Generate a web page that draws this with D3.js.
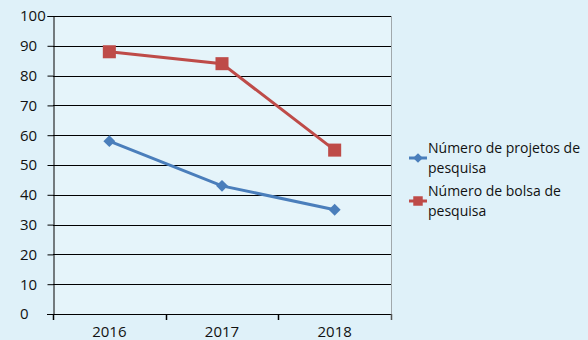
<!DOCTYPE html>
<html><head><meta charset="utf-8">
<script src="https://cdn.jsdelivr.net/npm/d3@7"></script>
<style>html,body{margin:0;padding:0;background:#dff1f9;}svg{display:block;}</style>
</head><body>
<svg id="c" width="588" height="340"></svg>
<script>
const categories = ["2016", "2017", "2018"];
const seriesNames = ["Número de projetos de pesquisa", "Número de bolsa de pesquisa"];
const projetos = [58, 43, 35];
const bolsas = [88, 84, 55];
const yTicks = [0, 10, 20, 30, 40, 50, 60, 70, 80, 90, 100];

(function () {
const svg = d3.select("#c");
const font = "'Open Sans', 'Liberation Sans', sans-serif";
const mLeft = 53, mRight = 391, mTop = 16, mBottom = 314;

svg.append("rect").attr("width", 588).attr("height", 340).attr("fill", "#dff1f9");
svg.append("rect").attr("x", mLeft).attr("y", mTop).attr("width", mRight - mLeft).attr("height", mBottom - mTop).attr("fill", "#e5f4fa");

const x = d3.scaleBand().domain(categories).range([mLeft, mRight]);
const y = d3.scaleLinear().domain([0, 100]).range([mBottom, mTop]);

svg.append("line").attr("x1", mRight + 0.5).attr("x2", mRight + 0.5).attr("y1", mTop).attr("y2", mBottom).attr("stroke", "#a0a8ac").attr("stroke-width", 1);

svg.append("g").selectAll("line").data(yTicks.filter(d => d > 0)).join("line")
  .attr("x1", mLeft).attr("x2", mRight)
  .attr("y1", d => Math.round(y(d)) + 0.5).attr("y2", d => Math.round(y(d)) + 0.5)
  .attr("stroke", "#000").attr("stroke-width", 1);

const yAxis = d3.axisLeft(y).tickValues(yTicks).tickSize(6).tickPadding(3);
const gy = svg.append("g").attr("transform", `translate(${mLeft + 0.5},0)`).call(yAxis);
gy.selectAll("text").attr("font-family", font).attr("font-size", 15).attr("fill", "#111")
  .attr("text-anchor", "start").attr("x", 20 - (mLeft + 0.5));
gy.select(".domain").attr("stroke", "#000");
gy.selectAll(".tick line").attr("stroke", "#000");

const xAxis = d3.axisBottom(x).tickSize(0).tickPadding(12);
const gx = svg.append("g").attr("transform", `translate(0,${mBottom})`).call(xAxis);
gx.selectAll("text").attr("font-family", font).attr("font-size", 15).attr("fill", "#111");
gx.select(".domain").remove();
svg.append("line").attr("x1", mLeft - 6).attr("x2", mRight).attr("y1", mBottom + 0.5).attr("y2", mBottom + 0.5).attr("stroke", "#000");
const edges = [mLeft, ...categories.map(c => x(c) + x.bandwidth())];
svg.append("g").selectAll("line").data(edges).join("line")
  .attr("x1", d => Math.round(d) + 0.5).attr("x2", d => Math.round(d) + 0.5)
  .attr("y1", mBottom).attr("y2", mBottom + 6)
  .attr("stroke", (d, i) => i === edges.length - 1 ? "#555" : "#000").attr("stroke-width", 1.5);

const cx = c => x(c) + x.bandwidth() / 2;
const line = d3.line().x((d, i) => cx(categories[i])).y(d => y(d));

const blue = "#4a7ebb", red = "#be4b48";

svg.append("path").datum(projetos).attr("d", line).attr("fill", "none").attr("stroke", blue).attr("stroke-width", 3);
svg.append("path").datum(bolsas).attr("d", line).attr("fill", "none").attr("stroke", red).attr("stroke-width", 3);

const diamond = d3.symbol().type(d3.symbolDiamond2).size(90);
const square = d3.symbol().type(d3.symbolSquare).size(170);

svg.append("g").selectAll("path").data(projetos).join("path")
  .attr("d", diamond).attr("transform", (d, i) => `translate(${cx(categories[i])},${y(d)})`).attr("fill", blue);
svg.append("g").selectAll("path").data(bolsas).join("path")
  .attr("d", square).attr("transform", (d, i) => `translate(${cx(categories[i])},${y(d)})`).attr("fill", red);

const legend = [
  {color: blue, sym: d3.symbol().type(d3.symbolDiamond2).size(60), lines: ["Número de projetos de", "pesquisa"], y: 158},
  {color: red, sym: d3.symbol().type(d3.symbolSquare).size(90), lines: ["Número de bolsa de", "pesquisa"], y: 201}
];
const lg = svg.append("g");
legend.forEach(l => {
  lg.append("line").attr("x1", 409).attr("x2", 427).attr("y1", l.y).attr("y2", l.y).attr("stroke", l.color).attr("stroke-width", 3);
  lg.append("path").attr("d", l.sym).attr("transform", `translate(418,${l.y})`).attr("fill", l.color);
  const t = lg.append("text").attr("x", 428).attr("y", l.y - 5).attr("font-family", font).attr("font-size", 14).attr("fill", "#111");
  l.lines.forEach((s, i) => t.append("tspan").attr("x", 428).attr("dy", i === 0 ? 0 : 20).text(s));
});
})();
</script>
</body></html>
